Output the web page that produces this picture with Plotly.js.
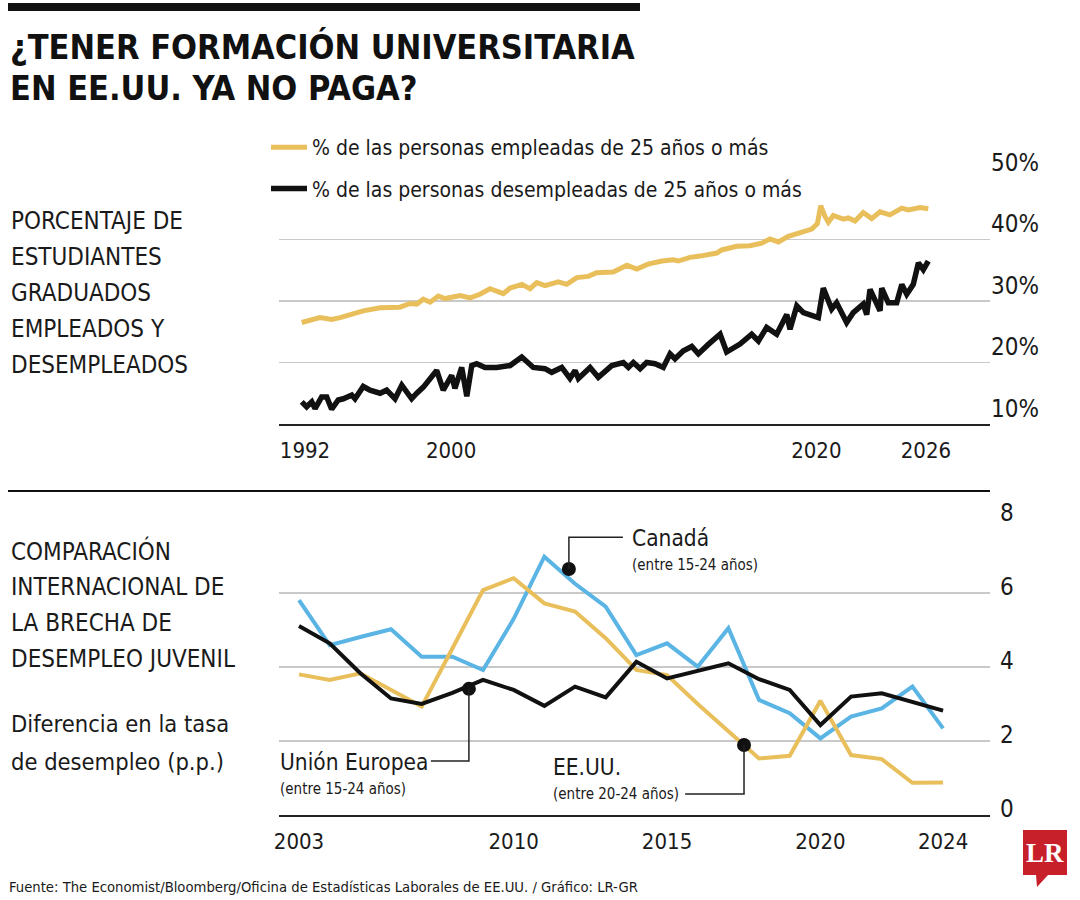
<!DOCTYPE html>
<html>
<head>
<meta charset="utf-8">
<script src="https://cdn.plot.ly/plotly-3.0.1.min.js"></script>
<style>html,body{margin:0;padding:0;background:#fff;}#chart{width:1080px;height:900px;}</style>
</head>
<body>
<div id="chart"></div>
<script>
// ---------- DATA ----------
// Top chart: share of college graduates (%)
const empYears = [1991.82,1992.82,1993.46,1993.92,1995.19,1996.11,1997.20,1997.75,1998.12,1998.48,1998.85,1999.30,1999.67,2000.49,2001.04,2001.58,2002.13,2002.86,2003.23,2003.88,2004.32,2004.69,2005.14,2005.87,2006.33,2006.88,2007.51,2007.97,2008.88,2009.63,2010.17,2010.78,2011.55,2012.17,2012.44,2013.08,2013.63,2014.55,2014.82,2015.64,2016.37,2017.01,2017.46,2017.92,2018.47,2019.11,2019.75,2020.06,2020.24,2020.48,2020.66,2020.93,2021.48,2021.75,2022.12,2022.57,2023.03,2023.49,2024.03,2024.68,2025.04,2025.68,2026.13];
const empPct = [26.5,27.3,27.0,27.3,28.4,28.9,29.0,29.6,29.5,30.3,29.8,30.8,30.4,30.9,30.5,31.1,32.0,31.2,32.1,32.7,32.0,33.0,32.5,33.1,32.7,33.8,34.0,34.6,34.7,35.8,35.2,36.0,36.5,36.7,36.5,37.1,37.3,37.8,38.3,38.9,39.0,39.4,40.1,39.6,40.5,41.1,41.7,42.6,45.5,43.7,42.8,43.9,43.3,43.5,43.0,44.4,43.4,44.5,44.0,45.1,44.8,45.2,45.0];

const unempYears = [1991.82,1992.09,1992.37,1992.55,1992.91,1993.19,1993.46,1993.82,1994.10,1994.56,1994.74,1995.19,1995.56,1996.11,1996.47,1996.93,1997.30,1997.57,1997.84,1998.12,1998.48,1999.21,1999.57,2000.03,2000.21,2000.58,2000.86,2001.13,2001.40,2001.86,2002.50,2003.23,2003.87,2004.50,2005.14,2005.51,2006.06,2006.51,2006.79,2006.97,2007.61,2008.06,2008.80,2009.43,2009.71,2009.98,2010.35,2010.71,2011.17,2011.62,2011.99,2012.26,2012.72,2013.18,2013.54,2014.07,2014.73,2015.09,2015.82,2016.46,2016.83,2017.28,2017.83,2018.38,2018.56,2018.93,2019.29,2020.11,2020.38,2020.84,2021.11,2021.66,2022.02,2022.57,2022.76,2022.94,2023.49,2023.58,2023.94,2024.40,2024.68,2024.95,2025.31,2025.59,2025.86,2026.13];
const unempPct = [13.6,12.8,13.6,12.5,14.4,14.4,12.4,13.9,14.1,14.7,14.1,16.1,15.5,15.0,15.5,14.1,16.3,15.2,14.1,15.0,16.0,18.7,15.5,17.9,15.8,19.2,14.5,19.5,19.8,19.2,19.2,19.5,20.9,19.2,19.0,18.4,19.2,17.4,18.7,17.4,19.2,17.6,19.5,20.0,19.2,20.0,19.0,20.0,19.8,19.2,21.4,20.6,21.9,22.6,21.4,22.9,24.6,21.7,23.0,24.6,23.5,25.7,24.6,27.8,25.4,29.2,28.1,27.3,32.1,28.7,29.7,26.5,28.1,29.5,27.8,31.9,28.4,32.1,29.7,29.7,32.7,31.1,32.7,36.2,35.1,36.5];

const topXTicks = [1992, 2000, 2020, 2026];
const topYTicks = [10, 20, 30, 40, 50];
const topYLabels = ['10%', '20%', '30%', '40%', '50%'];
const topNames = ['% de las personas empleadas de 25 años o más', '% de las personas desempleadas de 25 años o más'];

// Bottom chart: youth unemployment gap (p.p.)
const gapYears = [2003,2004,2005,2006,2007,2008,2009,2010,2011,2012,2013,2014,2015,2016,2017,2018,2019,2020,2021,2022,2023,2024];
const canadaGap = [5.81,4.59,4.81,5.02,4.28,4.28,3.92,5.30,6.98,6.25,5.63,4.32,4.64,4.01,5.05,3.11,2.75,2.07,2.66,2.88,3.47,2.34];
const usaGap    = [3.80,3.65,3.83,3.38,2.93,4.50,6.08,6.40,5.72,5.50,4.78,3.92,3.78,3.00,2.25,1.53,1.60,3.09,1.62,1.51,0.87,0.88];
const euGap     = [5.11,4.64,3.83,3.15,3.00,3.30,3.65,3.38,2.95,3.47,3.18,4.14,3.69,3.90,4.10,3.67,3.38,2.43,3.20,3.29,3.06,2.82];

const botXTicks = [2003, 2010, 2015, 2020, 2024];
const botYTicks = [0, 2, 4, 6, 8];

// Callouts (dot position and elbow of leader line, in data units)
const calloutNames = ['Canadá', 'Unión Europea', 'EE.UU.'];
const calloutSubs = ['(entre 15-24 años)', '(entre 15-24 años)', '(entre 20-24 años)'];
const calloutDotX = [2011.80, 2008.54, 2017.51];
const calloutDotY = [6.65, 3.41, 1.89];
const calloutElbowY = [7.51, 1.46, 0.57];
const calloutEndX = [2013.56, 2007.30, 2015.59];

const titleLines = ['¿TENER FORMACIÓN UNIVERSITARIA', 'EN EE.UU. YA NO PAGA?'];
const block1 = ['PORCENTAJE DE', 'ESTUDIANTES', 'GRADUADOS', 'EMPLEADOS Y', 'DESEMPLEADOS'];
const block2 = ['COMPARACIÓN', 'INTERNACIONAL DE', 'LA BRECHA DE', 'DESEMPLEO JUVENIL'];
const block3 = ['Diferencia en la tasa', 'de desempleo (p.p.)'];
const sourceText = 'Fuente: The Economist/Bloomberg/Oficina de Estadísticas Laborales de EE.UU. / Gráfico: LR-GR';

// ---------- STYLE ----------
const FONT = '"DejaVu Sans Condensed", "DejaVu Sans", sans-serif';
const INK = '#1a1a1a';
const YELLOW = '#e9bf5c';
const BLUE = '#5ab4e4';
const BLACK = '#111111';
const GRID = '#c9c9c9';
const W = 1080, H = 900;
const px = v => v / W;
const py = v => 1 - v / H;

function txt(text, x, y, size, opts) {
  return Object.assign({
    xref: 'paper', yref: 'paper', x: px(x), y: py(y),
    xanchor: 'left', yanchor: 'middle', showarrow: false, text: text,
    font: {family: FONT, size: size, color: INK}
  }, opts || {});
}

const traces = [
  {x: empYears, y: empPct, type: 'scatter', mode: 'lines', name: topNames[0], legendgroup: 'a',
   line: {color: YELLOW, width: 5}, xaxis: 'x', yaxis: 'y'},
  {x: unempYears, y: unempPct, type: 'scatter', mode: 'lines', name: topNames[1], legendgroup: 'b',
   line: {color: BLACK, width: 5.5}, xaxis: 'x', yaxis: 'y'},
  {x: gapYears, y: canadaGap, type: 'scatter', mode: 'lines', name: 'Canadá', showlegend: false,
   line: {color: BLUE, width: 4}, xaxis: 'x2', yaxis: 'y2'},
  {x: gapYears, y: usaGap, type: 'scatter', mode: 'lines', name: 'EE.UU.', showlegend: false,
   line: {color: YELLOW, width: 4}, xaxis: 'x2', yaxis: 'y2'},
  {x: gapYears, y: euGap, type: 'scatter', mode: 'lines', name: 'Unión Europea', showlegend: false,
   line: {color: BLACK, width: 4}, xaxis: 'x2', yaxis: 'y2'},
  {x: calloutDotX, y: calloutDotY, type: 'scatter', mode: 'markers', showlegend: false, hoverinfo: 'skip',
   marker: {color: BLACK, size: 14}, xaxis: 'x2', yaxis: 'y2'}
];

const shapes = [
  {type: 'rect', xref: 'paper', yref: 'paper', x0: px(8), x1: px(640), y0: py(3), y1: py(11),
   fillcolor: '#111', line: {width: 0}},
  {type: 'line', xref: 'paper', yref: 'paper', x0: px(8), x1: px(990), y0: py(491), y1: py(491),
   line: {color: '#111', width: 2}},
  // hide the left part of the 50% gridline (under the legend)
  {type: 'rect', xref: 'paper', yref: 'y', x0: px(276), x1: px(848), y0: 49.4, y1: 50.6,
   fillcolor: '#fff', line: {width: 0}, layer: 'between'},
  // LR logo
  {type: 'path', xref: 'paper', yref: 'paper',
   path: `M ${px(1023)} ${py(830)} L ${px(1067)} ${py(830)} L ${px(1067)} ${py(875)} L ${px(1048)} ${py(875)} L ${px(1037)} ${py(887)} L ${px(1036)} ${py(875)} L ${px(1023)} ${py(875)} Z`,
   fillcolor: '#c8202b', line: {width: 0}}
];
for (let i = 0; i < calloutNames.length; i++) {
  shapes.push({type: 'path', xref: 'x2', yref: 'y2',
    path: `M ${calloutDotX[i]} ${calloutDotY[i]} L ${calloutDotX[i]} ${calloutElbowY[i]} L ${calloutEndX[i]} ${calloutElbowY[i]}`,
    line: {color: '#222', width: 1.5}});
}

const annotations = [];
titleLines.forEach((t, i) => annotations.push(txt('<b>' + t + '</b>', 8, 47 + i * 41, 34, {font: {family: FONT, size: 34, color: '#111'}})));
block1.forEach((t, i) => annotations.push(txt(t, 9, 221 + i * 36, 24)));
block2.forEach((t, i) => annotations.push(txt(t, 9, 551 + i * 36, 24)));
block3.forEach((t, i) => annotations.push(txt(t, 9, 724 + i * 38, 23.5)));
// callout labels
const calloutTxtX = [630, 278, 551];
const calloutTxtY = [538, 762, 767];
for (let i = 0; i < calloutNames.length; i++) {
  annotations.push(txt(calloutNames[i], calloutTxtX[i], calloutTxtY[i], 22.5));
  annotations.push(txt(calloutSubs[i], calloutTxtX[i], calloutTxtY[i] + 27, 15));
}
annotations.push(txt(sourceText, 7, 886, 14.7));
annotations.push(txt('<b>LR</b>', 1045, 853, 27, {xanchor: 'center', font: {family: '"Liberation Serif", "DejaVu Serif", serif', size: 27, color: '#fff'}}));

const xFont = {family: FONT, size: 22, color: INK};
const yFont = {family: FONT, size: 24, color: INK};
const layout = {
  width: W, height: H,
  margin: {l: 0, r: 0, t: 0, b: 0},
  paper_bgcolor: '#fff', plot_bgcolor: '#fff',
  showlegend: true,
  legend: {x: px(266), y: py(127), xanchor: 'left', yanchor: 'top', traceorder: 'grouped',
    tracegroupgap: 11, itemwidth: 36, bgcolor: 'rgba(0,0,0,0)',
    font: {family: FONT, size: 21, color: INK}},
  xaxis: {domain: [px(279), px(990)], range: [1990.576, 2029.51], anchor: 'y',
    tickmode: 'array', tickvals: topXTicks, ticktext: topXTicks.map(String),
    showgrid: false, zeroline: false, showline: true, linecolor: '#222', linewidth: 2,
    ticks: '', ticklabelstandoff: 6, tickfont: xFont, fixedrange: true},
  yaxis: {domain: [py(424), py(178)], range: [10, 50], anchor: 'x', side: 'right',
    tickmode: 'array', tickvals: topYTicks, ticktext: topYLabels,
    ticklabelposition: 'outside top', ticklabelshift: 1, ticks: '',
    showgrid: true, gridcolor: GRID, gridwidth: 1.5, zeroline: false, showline: false,
    tickfont: yFont, fixedrange: true},
  xaxis2: {domain: [px(279), px(990)], range: [2002.348, 2025.53], anchor: 'y2',
    tickmode: 'array', tickvals: botXTicks, ticktext: botXTicks.map(String),
    showgrid: false, zeroline: false, showline: true, linecolor: '#222', linewidth: 2,
    ticks: '', ticklabelstandoff: 6, tickfont: xFont, fixedrange: true},
  yaxis2: {domain: [py(815), py(519)], range: [0, 8], anchor: 'x2', side: 'right',
    tickmode: 'array', tickvals: botYTicks, ticktext: botYTicks.map(String),
    ticklabelposition: 'outside top', ticklabelshift: 10, ticklabelstandoff: 9, ticks: '',
    showgrid: true, gridcolor: GRID, gridwidth: 1.5, zeroline: false, showline: false,
    tickfont: yFont, fixedrange: true},
  shapes: shapes,
  annotations: annotations
};

Plotly.newPlot('chart', traces, layout, {displayModeBar: false, staticPlot: true});
</script>
</body>
</html>
